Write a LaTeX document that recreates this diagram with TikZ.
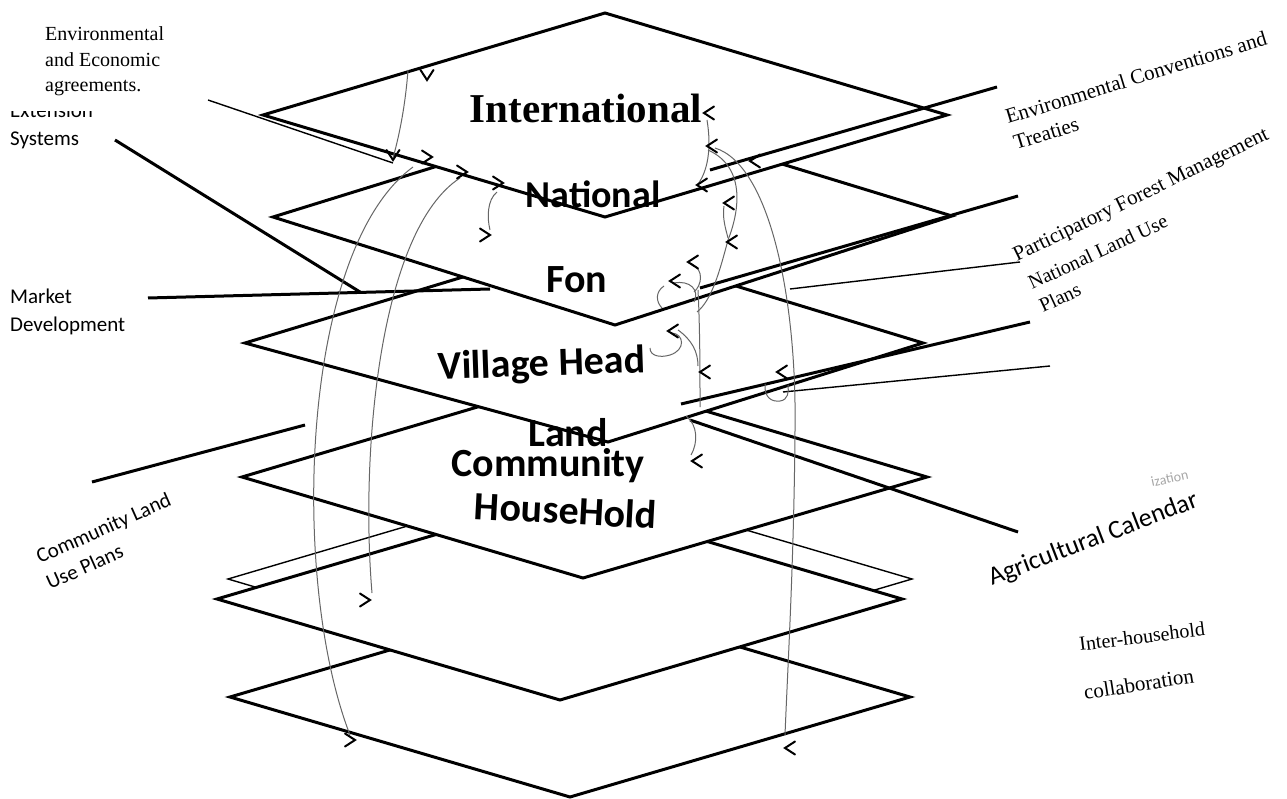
\documentclass[tikz,border=0pt]{standalone}
\usepackage{fontspec}
\setmainfont{Liberation Serif}
\newfontfamily\calfont{Carlito}
\begin{document}
\begin{tikzpicture}[x=1pt,y=-1pt,
  plane/.style={draw=black, line width=3pt, fill=white, line join=miter},
  shadowplane/.style={draw=black, line width=1.4pt, fill=white},
  thickln/.style={draw=black, line width=3pt},
  thinln/.style={draw=black, line width=1.4pt},
  arcln/.style={draw=black!60, line width=1pt},
  chevline/.style={draw=black, line width=2pt, line cap=round, line join=miter},
  chevL/.pic={\draw[chevline] (10,-6.5) -- (0,0) -- (10,6.5);},
  chevR/.pic={\draw[chevline] (-10,-6.5) -- (0,0) -- (-10,6.5);},
  chevD/.pic={\draw[chevline] (-6.5,-10) -- (0,0) -- (6.5,-10);},
  lvl/.style={font=\calfont\bfseries\fontsize{40}{46}\selectfont, inner sep=0pt, anchor=base},
  serlab/.style={font=\fontsize{20}{24}\selectfont, inner sep=0pt, anchor=base west},
  callab/.style={font=\calfont\fontsize{21}{25}\selectfont, inner sep=0pt, anchor=base west}
]
\useasboundingbox (0,0) rectangle (1287,799);

% ---- planes, bottom to top ----
\coordinate (d6L) at (230,697); \coordinate (d6T) at (570,597);
\coordinate (d6R) at (910,697); \coordinate (d6B) at (570,797);
\coordinate (shL) at (228,579); \coordinate (shT) at (570,478);
\coordinate (shR) at (912,579); \coordinate (shB) at (570,680);
\coordinate (d5L) at (217,599); \coordinate (d5T) at (560,498);
\coordinate (d5R) at (902,599); \coordinate (d5B) at (560,700);
\coordinate (d4L) at (242,477); \coordinate (d4T) at (585,375);
\coordinate (d4R) at (927,477); \coordinate (d4B) at (583,578);
\coordinate (d3L) at (245,343); \coordinate (d3T) at (585,240);
\coordinate (d3R) at (923,343); \coordinate (d3B) at (608,442);
\coordinate (d2L) at (273,217); \coordinate (d2T) at (612,112);
\coordinate (d2R) at (952,216); \coordinate (d2B) at (615,325);
\coordinate (d1L) at (263,115); \coordinate (d1T) at (605,13);
\coordinate (d1R) at (947,115); \coordinate (d1B) at (605,217);

\path[plane] (d6L) -- (d6T) -- (d6R) -- (d6B) -- cycle;
\path[shadowplane] (shL) -- (shT) -- (shR) -- (shB) -- cycle;
\path[plane] (d5L) -- (d5T) -- (d5R) -- (d5B) -- cycle;
\path[plane] (d4L) -- (d4T) -- (d4R) -- (d4B) -- cycle;
\path[plane] (d3L) -- (d3T) -- (d3R) -- (d3B) -- cycle;
\path[plane] (d2L) -- (d2T) -- (d2R) -- (d2B) -- cycle;
\path[plane] (d1L) -- (d1T) -- (d1R) -- (d1B) -- cycle;

% ---- connector lines ----
\coordinate (extA) at (115,140); \coordinate (extB) at (360,292);
\coordinate (mkA) at (148,298);  \coordinate (mkB) at (490,289);
\coordinate (clA) at (92,482);   \coordinate (clB) at (305,425);
\coordinate (eeA) at (208,100);  \coordinate (eeB) at (393,163);
\coordinate (ecA) at (710,170);  \coordinate (ecB) at (997,87);
\coordinate (pfA) at (700,288);  \coordinate (pfB) at (1018,196);
\coordinate (nlA) at (790,289);  \coordinate (nlB) at (1020,262);
\coordinate (c3A) at (681,404);  \coordinate (c3B) at (1030,322);
\coordinate (c5A) at (783,392);  \coordinate (c5B) at (1050,366);
\coordinate (agA) at (690,420);  \coordinate (agB) at (1018,532);

\draw[thickln] (extA) -- (extB);
\draw[thickln] (mkA) -- (mkB);
\draw[thickln] (clA) -- (clB);
\draw[thinln] (eeA) -- (eeB);
\draw[thickln] (ecA) -- (ecB);
\draw[thickln] (pfA) -- (pfB);
\draw[thinln] (nlA) -- (nlB);
\draw[thickln] (c3A) -- (c3B);
\draw[thinln] (c5A) -- (c5B);
\draw[thickln] (agA) -- (agB);

% ---- level labels ----
\node[lvl, font=\bfseries\fontsize{41}{46}\selectfont] (intl) at (586,123) {International};
\node[lvl, font=\calfont\bfseries\fontsize{38}{44}\selectfont] (natl) at (593,208) {National};
\node[lvl] (fon) at (577,293) {Fon};
\node[lvl, rotate=2] (vh) at (542,376) {Village Head};
\node[lvl] (land) at (568,446) {Land};
\node[lvl] (comm) at (548,476) {Community};
\node[lvl, rotate=-3] (hh) at (565,524) {HouseHold};

% ---- side labels ----
\node[callab] (ext1) at (10,118) {Extension};
\fill[white] (0,84) rectangle (178,111);
\node[serlab] (ee1) at (45,41) {Environmental};
\node[serlab] (ee2) at (45,67) {and Economic};
\node[serlab] (ee3) at (45,92) {agreements.};
\node[callab] (ext2) at (10,146) {Systems};
\node[callab] (mk1) at (10,304) {Market};
\node[callab] (mk2) at (10,331) {Development};
\node[callab, font=\calfont\fontsize{21}{25}\selectfont, rotate=24] (cl1) at (40,564) {Community Land};
\node[callab, font=\calfont\fontsize{21}{25}\selectfont, rotate=24] (cl2) at (50,590) {Use Plans};
\node[serlab, font=\fontsize{21}{25}\selectfont, rotate=17] (ec1) at (1008,124) {Environmental Conventions and};
\node[serlab, font=\fontsize{21}{25}\selectfont, rotate=17] (ec2) at (1016,150) {Treaties};
\node[serlab, font=\fontsize{21}{25}\selectfont, rotate=26] (pf1) at (1017,262) {Participatory Forest Management};
\node[serlab, rotate=25] (nl1) at (1032,290) {National Land Use};
\node[serlab, rotate=25] (nl2) at (1043,313) {Plans};
\node[callab, font=\calfont\fontsize{26}{30}\selectfont, rotate=21] (ag) at (992,586) {Agricultural Calendar};
\node[callab, font=\calfont\fontsize{14}{16}\selectfont, text=black!35, rotate=12] (frag) at (1152,487) {ization};
\node[serlab, font=\fontsize{20}{24}\selectfont, rotate=7] (ih1) at (1080,651) {Inter-household};
\node[serlab, font=\fontsize{21}{25}\selectfont, rotate=9] (ih2) at (1085,700) {collaboration};

% ---- thin curved arrows ----
\draw[arcln] (408,70) .. controls (405,110) and (398,140) .. (393,158);
\draw[arcln] (413,167) .. controls (300,250) and (290,580) .. (350,735);
\draw[arcln] (460,178) .. controls (380,230) and (360,450) .. (372,593);
\draw[arcln] (497,192) .. controls (487,200) and (487,218) .. (490,230);
\draw[arcln] (715,148) .. controls (770,165) and (797,300) .. (795,430) .. controls (794,560) and (788,660) .. (785,735);
\draw[arcln] (707,120) .. controls (712,150) and (707,172) .. (698,184);
\draw[arcln] (708,150) .. controls (748,168) and (738,215) .. (728,240) .. controls (720,270) and (712,300) .. (697,312);
\draw[arcln] (724,206) .. controls (722,218) and (726,230) .. (728,238);
\draw[arcln] (674,283) .. controls (690,280) and (700,290) .. (694,302);
\draw[arcln] (664,286) .. controls (655,292) and (656,302) .. (662,308);
\draw[arcln] (692,264) .. controls (704,270) and (702,285) .. (694,292);
\draw[arcln] (698,290) .. controls (700,330) and (700,370) .. (700,407);
\draw[arcln] (672,333) .. controls (684,334) and (686,350) .. (670,355) .. controls (660,358) and (650,356) .. (650,348);
\draw[arcln] (678,330) .. controls (692,340) and (698,352) .. (698,366);
\draw[arcln] (765,384) .. controls (764,398) and (772,402) .. (780,401) .. controls (788,400) and (789,392) .. (788,385);
\draw[arcln] (686,416) .. controls (698,425) and (698,443) .. (691,455);

% ---- chevron arrow marks ----
\foreach \p in {(704,113),(707,146),(697,185),(750,161),(724,203),(727,242),(688,262),(670,281),(668,331),(700,372),(777,372),(692,461),(785,748)}
  \pic at \p {chevL};
\foreach \p in {(432,157),(467,172),(503,183),(490,235),(370,600),(355,740)}
  \pic at \p {chevR};
\foreach \p in {(427,80),(393,160)}
  \pic at \p {chevD};
\end{tikzpicture}
\end{document}
